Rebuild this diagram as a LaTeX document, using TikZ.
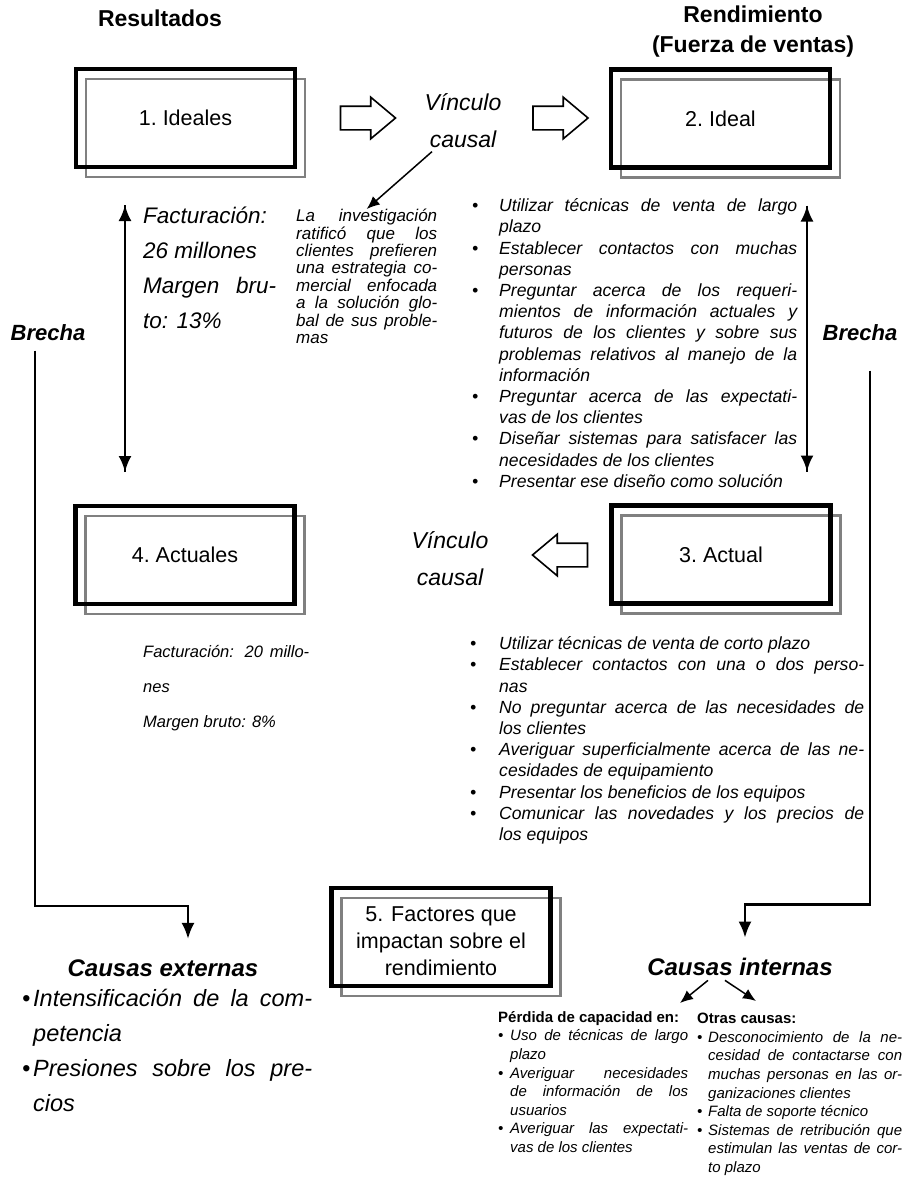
\documentclass[tikz,border=0pt]{standalone}
\usepackage{fontspec}
\setmainfont{Liberation Sans}
\usetikzlibrary{shapes.arrows,backgrounds,arrows.meta}
\tolerance=10000
\hyphenpenalty=10000
\newcommand\itm[2]{\hangindent=#1\hangafter=1\noindent\makebox[#1][l]{\textbullet}#2\par}
\tikzset{
  box-node/.style     = {draw, line width=4.5pt, outer sep=0pt, minimum width=219pt,
                         minimum height=98pt, align=center,
                         font=\fontsize{21.5}{27}\selectfont},
  shade-box/.style    = {draw=black!50, line width=2.2pt},
  head-node/.style    = {align=center, font=\bfseries\fontsize{23}{30}\selectfont},
  gap-node/.style     = {font=\bfseries\itshape\fontsize{22}{26}\selectfont},
  cause-node/.style   = {font=\bfseries\itshape\fontsize{24}{28}\selectfont},
  link-node/.style    = {align=center, font=\itshape\fontsize{23}{37}\selectfont},
  hollow-arrow/.style = {single arrow, draw, line width=1.6pt, fill=white, inner xsep=0pt,
                         inner ysep=11pt, minimum height=55pt,
                         single arrow head extend=9pt, single arrow tip angle=80},
  text-block/.style   = {anchor=north west, inner sep=0pt, align=justify},
  gap-line/.style     = {draw, line width=2.6pt},
  big-tip/.style      = {-{Latex[length=16pt,width=13pt]}},
  small-tip/.style    = {line width=1.5pt, -{Latex[length=13pt,width=11pt]}},
}
\begin{document}
\begin{tikzpicture}[x=1pt, y=-1pt]
  \useasboundingbox (0,0) rectangle (904,1178);
  \node[head-node] (res)  at (160,18) {Resultados};
  \node[head-node] (rend) at (753,32) {Rendimiento\\(Fuerza de ventas)};

  \node[box-node] (ideales)  at (185.5,118) {1.\ Ideales};
  \node[box-node] (ideal)    at (720.5,118.5) {2.\ Ideal};
  \node[box-node] (actual)   at (721,554.5) {3.\ Actual};
  \node[box-node] (actuales) at (185,555) {4.\ Actuales};
  \node[box-node] (factores) at (441,937) {\rule{0pt}{24pt}5. Factores que\\impactan sobre el\\rendimiento};

  \begin{scope}[on background layer]
    \fill[white] (0,0) rectangle (904,1178);
    \foreach \b in {ideales,ideal,actual,actuales,factores}
      \draw[shade-box] ([shift={(10,10)}]\b.south west) rectangle ([shift={(10,10)}]\b.north east);
  \end{scope}

  \node[hollow-arrow] (go-1) at (361,118) {};
  \node[hollow-arrow] (go-2) at (553.5,118) {};
  \node[hollow-arrow, shape border rotate=180] (back) at (567,555) {};
  \node[link-node] (link-up) at (463,121) {Vínculo\\causal};
  \node[link-node] (link-dn) at (450,559) {Vínculo\\causal};

  \node[gap-node] (gap-l) at (48,333) {Brecha};
  \node[gap-node] (gap-r) at (860,333) {Brecha};

  \node[text-block, text width=133pt, font=\itshape\fontsize{22.5}{35}\selectfont] (ideal-res) at (143,207)
    {Facturación:\\26 millones\\Margen bru-\linebreak to: 13\%};
  \node[text-block, text width=166pt, font=\itshape\fontsize{16.5}{35}\selectfont] (actual-res) at (143,645)
    {Facturación: 20 millo-\linebreak nes\\Margen bruto: 8\%};
  \node[text-block, text width=141pt, font=\itshape\fontsize{17}{17.4}\selectfont] (study) at (296,209)
    {La investigación\linebreak ratificó que los\linebreak clientes prefieren\linebreak
     una estrategia co-\linebreak mercial enfocada\linebreak a la solución glo-\linebreak
     bal de sus proble-\linebreak mas};

  \node[text-block, text width=325pt, font=\itshape\fontsize{17.6}{21.2}\selectfont] (ideal-list) at (472,198.5)
    {\itm{27pt}{Utilizar técnicas de venta de largo\linebreak plazo}
     \itm{27pt}{Establecer contactos con muchas\linebreak personas}
     \itm{27pt}{Preguntar acerca de los requeri-\linebreak mientos de información actuales y\linebreak
       futuros de los clientes y sobre sus\linebreak problemas relativos al manejo de la\linebreak información}
     \itm{27pt}{Preguntar acerca de las expectati-\linebreak vas de los clientes}
     \itm{27pt}{Diseñar sistemas para satisfacer las\linebreak necesidades de los clientes}
     \itm{27pt}{Presentar ese diseño como solución}};
  \node[text-block, text width=394pt, font=\itshape\fontsize{17.6}{21.2}\selectfont] (actual-list) at (470,636.5)
    {\itm{29pt}{Utilizar técnicas de venta de corto plazo}
     \itm{29pt}{Establecer contactos con una o dos perso-\linebreak nas}
     \itm{29pt}{No preguntar acerca de las necesidades de\linebreak los clientes}
     \itm{29pt}{Averiguar superficialmente acerca de las ne-\linebreak cesidades de equipamiento}
     \itm{29pt}{Presentar los beneficios de los equipos}
     \itm{29pt}{Comunicar las novedades y los precios de\linebreak los equipos}};

  \node[cause-node] (ext) at (163,968) {Causas externas};
  \node[cause-node] (int) at (740,967) {Causas internas};
  \node[text-block, text width=290pt, font=\itshape\fontsize{23.5}{35}\selectfont] (ext-list) at (22,989)
    {\itm{11pt}{Intensificación de la com-\linebreak petencia}
     \itm{11pt}{Presiones sobre los pre-\linebreak cios}};
  \node[text-block, text width=190pt, font=\itshape\fontsize{15}{18.6}\selectfont] (loss-list) at (498,1011)
    {{\upshape\bfseries Pérdida de capacidad en:}\par
     \itm{12pt}{Uso de técnicas de largo\linebreak plazo}
     \itm{12pt}{Averiguar necesidades\linebreak de información de los\linebreak usuarios}
     \itm{12pt}{Averiguar las expectati-\linebreak vas de los clientes}};
  \node[text-block, text width=205pt, font=\itshape\fontsize{15}{18.6}\selectfont] (other-list) at (697,1013)
    {{\upshape\bfseries Otras causas:}\par
     \itm{11pt}{Desconocimiento de la ne-\linebreak cesidad de contactarse con\linebreak
       muchas personas en las or-\linebreak ganizaciones clientes}
     \itm{11pt}{Falta de soporte técnico}
     \itm{11pt}{Sistemas de retribución que\linebreak estimulan las ventas de cor-\linebreak to plazo}};

  \coordinate (to-loss)  at (680,1003);
  \coordinate (to-other) at (756,1001);

  \draw[gap-line, big-tip] ([xshift=-60pt, yshift=34pt]actuales.north) -- ([xshift=-60.5pt, yshift=-38pt]ideales.south);
  \draw[gap-line, big-tip] ([xshift=-60.5pt, yshift=-38pt]ideales.south) -- ([xshift=-60pt, yshift=34pt]actuales.north);
  \draw[gap-line, big-tip] ([xshift=86pt, yshift=34pt]actual.north) -- ([xshift=86.5pt, yshift=-38pt]ideal.south);
  \draw[gap-line, big-tip] ([xshift=86.5pt, yshift=-38pt]ideal.south) -- ([xshift=86pt, yshift=34pt]actual.north);
  \draw[gap-line, big-tip] ([xshift=-13pt, yshift=-6pt]gap-l.south) |- ([xshift=25pt, yshift=50pt]ext.north)
    -- ([xshift=25pt, yshift=17pt]ext.north);
  \draw[gap-line, big-tip] ([xshift=10pt, yshift=-26pt]gap-r.south) |- ([xshift=5pt, yshift=50pt]int.north)
    -- ([xshift=5pt, yshift=17pt]int.north);
  \draw[small-tip] ([xshift=-31pt]link-up.south) -- (study.north);
  \draw[small-tip] ([xshift=-32pt, yshift=-1pt]int.south) -- (to-loss);
  \draw[small-tip] ([xshift=-15pt, yshift=-1pt]int.south) -- (to-other);
\end{tikzpicture}
\end{document}
